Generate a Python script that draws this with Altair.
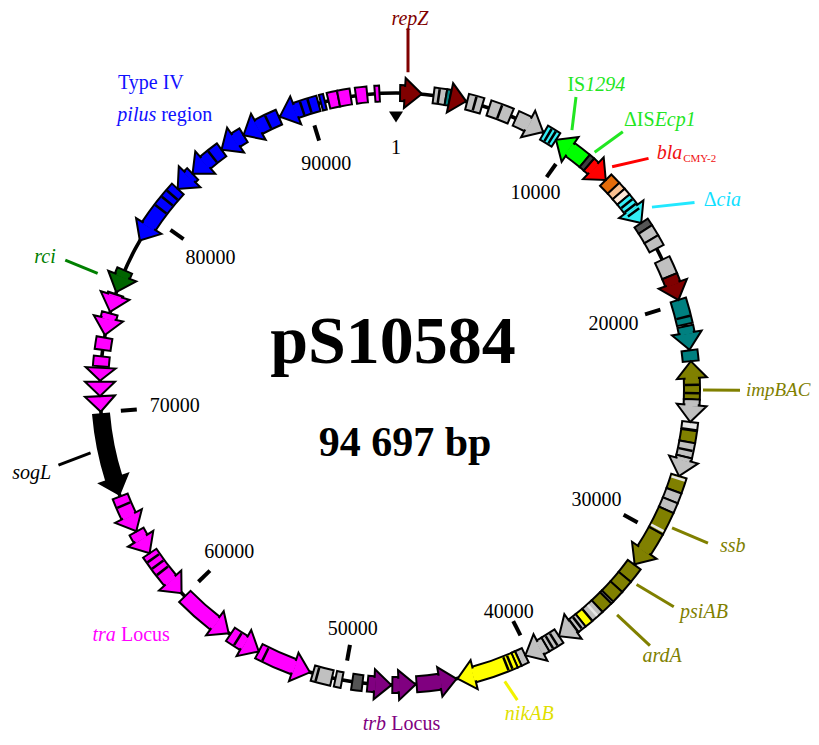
import pandas as pd
import altair as alt

# ---------------- data ----------------
PLASMID = "pS10584"
SIZE_LABEL = "94 697 bp"
TOTAL_BP = 94697

DR, GR, TE, CY_, LI, DG = "#800000", "#c0c0c0", "#008080", "#33eef5", "#00ff00", "#404040"
RD, OR, PE, BE, OL, YE = "#ff0000", "#e46c0a", "#fac090", "#fde9d9", "#808000", "#ffff00"
PU, MA, BK, GN, BL, LG, MG = "#800080", "#ff00ff", "#000000", "#006400", "#0000ff", "#e6e6e6", "#555555"

gene_start = [210, 1920, 2552, 2762, 3656, 4814, 6287, 7892, 8602, 10417,
              10706, 11864, 12442, 12837, 13205, 14704, 15099, 15678, 16862, 17782,
              19071, 20465, 21702, 22254, 24201, 25358, 25779, 26384, 27147, 28173,
              28962, 29488, 30014, 31198, 33250, 34039, 34696, 35354, 35486, 36090,
              36774, 37195, 37643, 38563, 39376, 40536, 40931, 41141, 44245, 46349,
              47586, 49059, 50111, 50637, 51795, 54609, 56398, 59555, 62159, 63474,
              65526, 69866, 70655, 71444, 72181, 73023, 73786, 74996, 76049, 78942,
              82203, 83282, 85202, 86543, 88622, 90831, 91227, 91752, 92648, 93621]
gene_end = [1315, 2552, 2762, 3604, 4446, 5998, 7839, 8602, 10417, 10706,
            11864, 12442, 12837, 13205, 14704, 15099, 15678, 16230, 17782, 19071,
            20360, 21675, 22254, 24201, 25358, 25726, 26384, 27147, 28173, 28962,
            29488, 30014, 31198, 33223, 34039, 34696, 35354, 35486, 36090, 36748,
            37195, 37643, 38563, 39376, 40536, 40931, 41141, 44192, 46297, 47533,
            48796, 49585, 50453, 51637, 54609, 56293, 59318, 62159, 63448, 65421,
            69735, 70655, 71392, 72102, 72681, 73654, 74917, 75944, 77232, 82203,
            83282, 85202, 86543, 88569, 90700, 91042, 91752, 92384, 93226, 93856]
gene_strand = [1, 0, 0, 1, 0, 0, 1, 0, -1, 0,
               1, 0, 0, 0, 1, 0, 0, 0, 0, 1,
               0, 1, 0, -1, 1, 0, 0, 0, 1, 0,
               0, 0, 0, 1, 0, 0, 0, 0, 0, 0,
               0, 0, 1, 0, 1, 0, 0, 1, -1, -1,
               -1, 0, 0, 0, -1, -1, -1, -1, -1, -1,
               -1, -1, -1, -1, 0, 0, -1, -1, -1, -1,
               -1, -1, -1, -1, -1, 0, 0, 0, 0, 0]
gene_color = [DR, GR, TE, DR, GR, GR, GR, CY_, LI, DG,
              RD, OR, PE, BE, CY_, MG, GR, GR, GR, DR,
              TE, TE, TE, OL, GR, LG, OL, GR, GR, OL,
              GR, GR, OL, OL, OL, OL, OL, GR, OL, GR,
              YE, GR, GR, GR, GR, GR, YE, YE, PU, PU,
              PU, MG, GR, GR, MA, MA, MA, MA, MA, MA,
              BK, MA, MA, MA, MA, MA, MA, MA, GN, BL,
              BL, BL, BL, BL, BL, BL, MA, MA, MA, MA]

band_pos = [2183, 4051, 5393, 19992, 23464, 23885, 26778, 28300, 31040, 36406,
            37406, 38879, 39142, 41404, 41615, 51400, 54241, 55846, 61054, 61448,
            61843, 64947, 80863, 81389, 81782, 84623, 87964, 89832, 90226,
            8130, 8370, 13480, 13760, 14040]
band_color = [BK, BK, BK, BK, BK, BK, BK, LG, LG, LG,
              BK, BK, BK, BK, BK, BK, BK, BK, BK, BK,
              BK, BK, BK, BK, BK, BK, BK, BK, BK,
              BK, BK, BK, BK, BK]

tick_pos = [0, 9312, 19282, 31277, 40299, 50032, 59371, 69840, 80283, 90173]
tick_label = ["1", "10000", "20000", "30000", "40000", "50000", "60000", "70000", "80000", "90000"]
tick_label_r = [241, 241, 227, 229, 250, 244, 233, 222, 227, 236]

lead_pos1 = [571, 8996, 10522, 11627, 14363, 23727, 30698, 33960, 35670, 41983, 76600, 67920]
lead_r1 = [317, 313, 309, 310, 314, 307, 309, 310, 316, 312, 320, 312]
lead_pos2 = [500, 8326, 10890, 12521, 15257, 23727, 30593, 33697, 35590, 41746, 76627, 67683]
lead_r2 = [361, 343, 343, 342, 352, 344, 348, 353, 361, 334, 355, 346]
lead_color = [DR, "#22e622", "#22e622", RD, "#22e8ff", OL, OL, OL, OL, "#f2f200", "#008000", BK]

ann_text = ["repZ", "IS", "1294", "ΔIS", "Ecp1", "bla", "CMY-2", "Δ", "cia", "impBAC",
            "ssb", "psiAB", "ardA", "nikAB", "trb", "Locus", "tra", "Locus", "sogL", "rci",
            "pilus", "region", "Type IV"]
ann_pos = [568, 8391, 8391, 11548, 11548, 12574, 13494, 15651, 15651, 23717,
           30474, 33697, 35538, 42482, 47796, 47560, 60160, 60028, 67604, 76444,
           83860, 84021, 84518]
ann_r = [370, 358, 358, 373, 373, 352, 368, 372, 372, 350,
         360, 361, 377, 343, 335, 335, 373, 369, 374, 375,
         364, 361, 392]
ann_style = ["italic", "normal", "italic", "normal", "italic", "italic", "normal", "normal", "italic", "italic",
             "italic", "italic", "italic", "italic", "italic", "normal", "italic", "normal", "italic", "italic",
             "italic", "normal", "normal"]
ann_align = ["center", "right", "left", "right", "left", "left", "left", "right", "left", "left",
             "left", "left", "center", "left", "right", "left", "right", "left", "center", "center",
             "right", "left", "center"]
ann_size = [20, 20, 20, 20, 20, 20, 11, 20, 20, 19,
            20, 20, 20, 20, 20, 20, 20, 20, 20, 20,
            20, 20, 20]
ann_color = [DR, "#22e622", "#22e622", "#22e622", "#22e622", "#f01010", "#f01010", "#10e0ff", "#10e0ff", OL,
             OL, OL, OL, "#e0e000", PU, PU, MA, MA, BK, "#008000",
             "#1010ff", "#1010ff", "#1010ff"]

# ---------------- layout constants ----------------
W, H = 803, 729
CX, CY = 388, 381
R = 296
B_OUT, B_IN = 304, 288
HEAD_BP = 868
UNIT = 15
FONT = "Liberation Serif"
L = TOTAL_BP

genes = pd.DataFrame({"start": gene_start, "end": gene_end, "strand": gene_strand, "color": gene_color})
bands = pd.DataFrame({"pos": band_pos, "color": band_color})
ticks = pd.DataFrame({"pos": tick_pos, "label": tick_label, "lr": tick_label_r})
leads = pd.DataFrame({"p1": lead_pos1, "r1": lead_r1, "p2": lead_pos2, "r2": lead_r2, "color": lead_color})
ann = pd.DataFrame({"txt": ann_text, "pos": ann_pos, "r": ann_r, "style": ann_style,
                    "align": ann_align, "fs": ann_size, "col": ann_color})
ring = pd.DataFrame({"a": [0], "b": [L]})
titles = pd.DataFrame({"t1": [PLASMID], "t2": [SIZE_LABEL]})

xs = alt.Scale(domain=[0, W], range=[0, W], nice=False, zero=False)
ys = alt.Scale(domain=[0, H], range=[0, H], nice=False, zero=False)
th = alt.Scale(domain=[0, L], range=[0, 6.283185307179586], nice=False, zero=False)


def px(pos, r):
    return f"{CX} + ({r}) * sin(2 * PI * ({pos}) / {L})"


def py(pos, r):
    return f"{CY} - ({r}) * cos(2 * PI * ({pos}) / {L})"


def X(f):
    return alt.X(f, scale=xs, axis=None)


def Y(f):
    return alt.Y(f, scale=ys, axis=None)


backbone = alt.Chart(ring).mark_arc(color="black").encode(
    theta=alt.Theta("a:Q", scale=th), theta2="b:Q",
    radius=alt.value(R + 1.8), radius2=alt.value(R - 1.8),
    x=alt.value(CX), y=alt.value(CY))

tick_rules = alt.Chart(ticks).transform_filter("datum.label != '1'").transform_calculate(
    x1=px("datum.pos", 260), y1=py("datum.pos", 260),
    x2=px("datum.pos", 276), y2=py("datum.pos", 276),
).mark_rule(color="black", strokeWidth=4, strokeCap="butt").encode(
    x=X("x1:Q"), y=Y("y1:Q"), x2="x2:Q", y2="y2:Q")

origin_mark = alt.Chart(ticks).transform_filter("datum.label == '1'").transform_calculate(
    mx=px("datum.pos", 272), my=py("datum.pos", 272), rot=f"datum.pos / {L} * 360",
).mark_point(shape="M -1 -0.8 L 1 -0.8 L 0 0.8 Z", size=196, filled=True, color="black", opacity=1).encode(
    x=X("mx:Q"), y=Y("my:Q"), angle=alt.Angle("rot:Q", scale=None))

tick_text = alt.Chart(ticks).transform_calculate(
    tx=px("datum.pos", "datum.lr"), ty=py("datum.pos", "datum.lr"),
).mark_text(font=FONT, fontSize=20, color="black", align="center", baseline="middle").encode(
    x=X("tx:Q"), y=Y("ty:Q"), text="label:N")

lead_lines = alt.Chart(leads).transform_calculate(
    x1=px("datum.p1", "datum.r1"), y1=py("datum.p1", "datum.r1"),
    x2=px("datum.p2", "datum.r2"), y2=py("datum.p2", "datum.r2"),
).mark_rule(strokeWidth=3).encode(
    x=X("x1:Q"), y=Y("y1:Q"), x2="x2:Q", y2="y2:Q", color=alt.Color("color:N", scale=None))

body_calc = dict(
    hl=f"datum.strand == 0 ? 0 : min({HEAD_BP}, datum.end - datum.start)",
    bs="datum.strand == -1 ? datum.start + datum.hl : datum.start",
    be="datum.strand == 1 ? datum.end - datum.hl : datum.end",
)

bodies = alt.Chart(genes).transform_calculate(**body_calc).transform_filter(
    "datum.be - datum.bs > 5").mark_arc(stroke="black", strokeWidth=2, strokeJoin="miter").encode(
    theta=alt.Theta("bs:Q", scale=th), theta2="be:Q",
    radius=alt.value(B_OUT), radius2=alt.value(B_IN),
    x=alt.value(CX), y=alt.value(CY), fill=alt.Fill("color:N", scale=None))

heads = alt.Chart(genes).transform_filter("datum.strand != 0").transform_calculate(
    hl=f"min({HEAD_BP}, datum.end - datum.start)",
    hc="datum.strand == 1 ? datum.end - datum.hl / 2 : datum.start + datum.hl / 2",
    hx=px("datum.hc", R), hy=py("datum.hc", R),
    rot=f"(datum.hc / {L} * 360 + (datum.strand == 1 ? 0 : 180)) % 360",
    hu=f"datum.hl / {L} * 2 * PI * {R} / 2 / {UNIT}",
    shp="'M ' + (-datum.hu) + ' -1 L ' + datum.hu + ' 0 L ' + (-datum.hu) + ' 1 Z'",
).mark_point(filled=True, stroke="black", strokeWidth=2, strokeJoin="miter", opacity=1,
             size=4 * UNIT * UNIT).encode(
    x=X("hx:Q"), y=Y("hy:Q"), angle=alt.Angle("rot:Q", scale=None),
    shape=alt.Shape("shp:N", scale=None), fill=alt.Fill("color:N", scale=None))

covers = alt.Chart(genes).transform_filter("datum.strand != 0").transform_calculate(**body_calc).transform_filter(
    "datum.be - datum.bs > 5").transform_calculate(
    cs="datum.strand == 1 ? datum.bs + 70 : datum.bs - 70",
    ce="datum.strand == 1 ? datum.be + 70 : datum.be - 70",
).mark_arc().encode(
    theta=alt.Theta("cs:Q", scale=th), theta2="ce:Q",
    radius=alt.value(B_OUT - 1.8), radius2=alt.value(B_IN + 1.8),
    x=alt.value(CX), y=alt.value(CY), fill=alt.Fill("color:N", scale=None))

band_arcs = alt.Chart(bands).transform_calculate(
    a="datum.pos - 65", b="datum.pos + 65").mark_arc().encode(
    theta=alt.Theta("a:Q", scale=th), theta2="b:Q",
    radius=alt.value(B_OUT - 1), radius2=alt.value(B_IN + 1),
    x=alt.value(CX), y=alt.value(CY), fill=alt.Fill("color:N", scale=None))


def ann_layer(style, align):
    return alt.Chart(ann).transform_filter(
        f"datum.style == '{style}' && datum.align == '{align}'").transform_calculate(
        tx=px("datum.pos", "datum.r"), ty=py("datum.pos", "datum.r"),
    ).mark_text(font=FONT, fontStyle=style, align=align, baseline="middle").encode(
        x=X("tx:Q"), y=Y("ty:Q"), text="txt:N",
        color=alt.Color("col:N", scale=None), size=alt.Size("fs:Q", scale=None))


ann_layers = [ann_layer(s, a) for s in ["italic", "normal"] for a in ["left", "right", "center"]]

title1 = alt.Chart(titles).mark_text(font=FONT, fontSize=68, fontWeight="bold", color="black",
                                     align="center", baseline="alphabetic").encode(
    text="t1:N", x=alt.value(CX - 3), y=alt.value(CY - 26))
title2 = alt.Chart(titles).mark_text(font=FONT, fontSize=42, fontWeight="bold", color="black",
                                     align="center", baseline="alphabetic").encode(
    text="t2:N", x=alt.value(CX + 9), y=alt.value(CY + 67))

chart = alt.layer(
    backbone, tick_rules, origin_mark, tick_text, lead_lines,
    bodies, heads, covers, band_arcs, *ann_layers, title1, title2,
).properties(
    width=W, height=H, padding=0,
    autosize=alt.AutoSizeParams(type="none"), background="white",
).configure_view(stroke=None)

chart.save("out.html", embed_options={"renderer": "svg", "actions": False})
